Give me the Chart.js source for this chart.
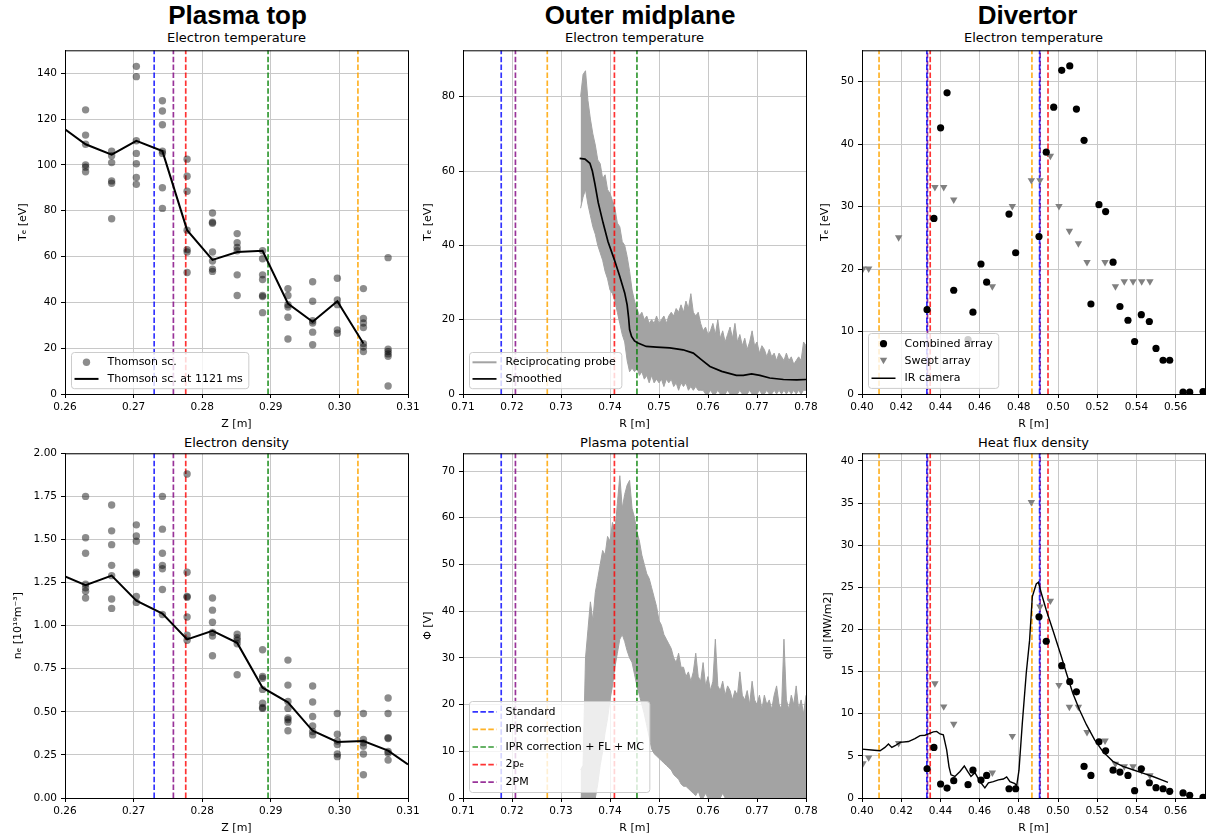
<!DOCTYPE html>
<html>
<head>
<meta charset="utf-8">
<script src="https://cdn.jsdelivr.net/npm/chart.js@4/dist/chart.umd.min.js"></script>
<style>
body { margin: 0; width: 1208px; height: 840px; overflow: hidden; background: #fff; position: relative; }
canvas { position: absolute; }
.big { position: absolute; font: bold 26px "Liberation Sans", Arial, sans-serif; line-height: 26px; white-space: nowrap; transform: translateX(-50%); color: #000; }
.sub { position: absolute; font: 13px "DejaVu Sans", sans-serif; line-height: 13px; white-space: nowrap; transform: translateX(-50%); color: #000; }
</style>
</head>
<body>
<div class="big" style="left:237.5px;top:2px">Plasma top</div>
<div class="big" style="left:640px;top:2px">Outer midplane</div>
<div class="big" style="left:1027.5px;top:2px">Divertor</div>
<div class="sub" style="left:236.5px;top:30.5px">Electron temperature</div>
<div class="sub" style="left:634.5px;top:30.5px">Electron temperature</div>
<div class="sub" style="left:1033.5px;top:30.5px">Electron temperature</div>
<div class="sub" style="left:236.5px;top:435.7px">Electron density</div>
<div class="sub" style="left:634.5px;top:435.7px">Plasma potential</div>
<div class="sub" style="left:1033.5px;top:435.7px">Heat flux density</div>

<canvas id="tl" width="421" height="394" style="left:5px;top:40px"></canvas>
<canvas id="tm" width="421" height="394" style="left:403px;top:40px"></canvas>
<canvas id="tr" width="413" height="394" style="left:802px;top:40px"></canvas>
<canvas id="bl" width="421" height="395" style="left:5px;top:443px"></canvas>
<canvas id="bm" width="421" height="395" style="left:403px;top:443px"></canvas>
<canvas id="br" width="413" height="395" style="left:802px;top:443px"></canvas>

<script>
// separatrix positions from the different models
const modelNames = ['Standard', 'IPR correction', 'IPR correction + FL + MC', '2pₑ', '2PM'];
const modelColors = ['rgba(0,0,255,0.8)', 'rgba(255,165,0,0.85)', 'rgba(0,128,0,0.8)', 'rgba(255,0,0,0.8)', 'rgba(128,0,128,0.8)'];
const modelZTop = [0.2730, 0.3027, 0.2896, 0.2776, 0.2758];
const modelROmp = [0.7178, 0.7272, 0.7455, 0.7409, 0.7207];
const modelRDivIn = [0.4331, 0.4087, null, 0.4348, 0.4334];
const modelRDivOut = [0.4906, 0.4867, null, 0.4949, 0.4909];

// plasma top: Thomson scattering
const zCols = [0.2630, 0.2668, 0.2704, 0.2742, 0.2778, 0.2815, 0.2851, 0.2888, 0.2925, 0.2961, 0.2997, 0.3035, 0.3071];
const teThomson = [
  [124, 113, 109, 100, 99, 97],
  [106, 104, 101, 93, 92, 76.5],
  [143, 138.5, 110.5, 105, 100.5, 94.5, 91.5],
  [128, 123.5, 117.5, 106, 105, 90, 81],
  [102.5, 95, 88.5, 71.5, 63, 62, 53],
  [79, 75, 74.5, 62, 58, 54.5, 53.5],
  [70, 66, 64, 62.5, 52, 43],
  [62.5, 59, 52, 50, 43, 42.5, 35.5],
  [46, 43, 39, 38, 33.5, 24],
  [49, 40.5, 32, 31, 27, 21.5],
  [50.5, 41, 39, 28, 26.5],
  [46, 33, 31, 29, 22, 20.5, 18.5],
  [59.5, 19.5, 18.5, 17.5, 16.5, 3.5]
];
const neThomson = [
  [1.75, 1.51, 1.42, 1.24, 1.22, 1.20, 1.16],
  [1.70, 1.55, 1.47, 1.35, 1.29, 1.155, 1.10],
  [1.585, 1.52, 1.49, 1.31, 1.30, 1.17, 1.135],
  [1.75, 1.56, 1.42, 1.35, 1.33, 1.21, 1.065],
  [1.88, 1.31, 1.17, 1.165, 1.05, 0.945, 0.915],
  [1.16, 1.09, 1.02, 0.96, 0.94, 0.825],
  [0.95, 0.93, 0.915, 0.895, 0.715],
  [0.86, 0.705, 0.695, 0.63, 0.55, 0.525, 0.52],
  [0.80, 0.655, 0.56, 0.52, 0.465, 0.455, 0.44, 0.39],
  [0.65, 0.557, 0.473, 0.418, 0.386, 0.366],
  [0.49, 0.37, 0.33, 0.31, 0.255, 0.24],
  [0.49, 0.34, 0.32, 0.30, 0.255, 0.135],
  [0.58, 0.49, 0.35, 0.345, 0.27, 0.26, 0.22]
];
const zLineTe = [0.2600, 0.2630, 0.2668, 0.2704, 0.2742, 0.2778, 0.2815, 0.2851, 0.2888, 0.2925, 0.2961, 0.2997, 0.3035];
const teLine = [115.5, 109, 104.5, 110.5, 106, 71.5, 58.5, 62, 62.5, 39.5, 31.5, 40.5, 22];
const zLineNe = [0.2600, 0.2630, 0.2668, 0.2704, 0.2742, 0.2778, 0.2815, 0.2851, 0.2888, 0.2925, 0.2961, 0.2997, 0.3035, 0.3071, 0.3100];
const neLine = [1.285, 1.235, 1.29, 1.145, 1.07, 0.92, 0.97, 0.90, 0.64, 0.555, 0.39, 0.325, 0.33, 0.275, 0.195];

// outer midplane: reciprocating probe (upper / lower edge of the noisy trace)
const probeR = [
  0.7340, 0.7345, 0.7350, 0.7355, 0.7360, 0.7365, 0.7370, 0.7375, 0.7380, 0.7385,
  0.7390, 0.7395, 0.7400, 0.7405, 0.7410, 0.7415, 0.7420, 0.7425, 0.7430, 0.7435,
  0.7440, 0.7445, 0.7450, 0.7455, 0.7460, 0.7465, 0.7470, 0.7475, 0.7480, 0.7485,
  0.7490, 0.7495, 0.7500, 0.7505, 0.7510, 0.7515, 0.7520, 0.7525, 0.7530, 0.7535,
  0.7540, 0.7545, 0.7550, 0.7555, 0.7560, 0.7565, 0.7570, 0.7575, 0.7580, 0.7585,
  0.7590, 0.7595, 0.7600, 0.7605, 0.7610, 0.7615, 0.7620, 0.7625, 0.7630, 0.7635,
  0.7640, 0.7645, 0.7650, 0.7655, 0.7660, 0.7665, 0.7670, 0.7675, 0.7680, 0.7685,
  0.7690, 0.7695, 0.7700, 0.7705, 0.7710, 0.7715, 0.7720, 0.7725, 0.7730, 0.7735,
  0.7740, 0.7745, 0.7750, 0.7755, 0.7760, 0.7765, 0.7770, 0.7775, 0.7780, 0.7785,
  0.7790, 0.7795, 0.7800
];
const teProbeHi = [
  80, 86, 87, 79, 74, 70, 67, 63, 62, 58,
  59, 55, 54, 52, 50, 46, 45, 41, 40, 37,
  33, 28, 25, 23, 21, 22, 20, 21, 19, 20,
  19, 21, 19, 20, 21, 19, 21, 22, 21, 23,
  22, 24, 22, 25, 23, 27, 22, 21, 22, 19,
  17, 18, 16, 17, 19, 16, 20, 15, 17, 14,
  16, 18, 15, 19, 14, 16, 13, 15, 12, 14,
  17, 13, 14, 11, 13, 12, 10, 12, 10, 11,
  9, 11, 10, 9, 11, 9, 10, 8, 9, 10,
  9, 14, 13
];
const teProbeLo = [
  50, 53, 55, 51, 48, 45, 43, 40, 38, 36,
  33, 31, 28, 27, 25, 22, 19, 16, 14, 9,
  6, 7, 6, 7, 5, 6, 4, 5, 3, 5,
  3, 4, 3, 4, 2, 4, 3, 4, 2, 3,
  1, 3, 2, 3, 1, 2, 1, 2, 1, 1,
  1, 0, 0, 1, 0, 0, 1, 0, 0, 0,
  1, 0, 0, 0, 0, 1, 0, 0, 0, 1,
  0, 0, 0, 1, 0, 0, 1, 0, 0, 1,
  0, 1, 0, 1, 0, 1, 0, 1, 0, 1,
  0, 1, 1
];
const phiProbeHi = [
  6, 7, 30, 36, 42, 38, 44, 47, 50, 53,
  52, 56, 55, 59, 57, 63, 69, 62, 65, 67,
  68, 62, 60, 57, 55, 52, 50, 48, 47, 45,
  43, 41, 38, 37, 35, 34, 33, 32, 30, 29,
  31, 28, 28, 26, 27, 25, 27, 31, 26, 25,
  29, 24, 26, 23, 25, 34, 24, 23, 25, 22,
  24, 23, 21, 23, 22, 27, 22, 21, 23, 20,
  25, 21, 20, 22, 19, 22, 20, 21, 19, 22,
  24, 20, 19, 34, 21, 19, 22, 20, 24, 19,
  21, 18, 22
];
const phiProbeLo = [
  0, 0, 0, 0, 0, 0, 0, 3, 7, 10,
  14, 17, 21, 24, 28, 31, 34, 35, 33.5, 31.5,
  30, 29, 26.5, 24, 22, 20, 18, 15.5, 13, 10.5,
  9.5, 9, 8.5, 8, 7.5, 7, 6.5, 6, 5, 4.5,
  4, 3, 2.5, 2.5, 2, 1.5, 1, 0.5, 1.5, 0,
  0, 1, 0, 0, 0, 0, 0, 0, 1, 0,
  0, 0, 0, 0, 0, 0, 0, 0, 0, 0,
  0, 0, 0, 0, 0, 0, 0, 0, 0, 0,
  0, 0, 0, 0, 0, 0, 0, 0, 0, 0,
  0, 0, 0
];
const smR = [0.7338, 0.7349, 0.7359, 0.7364, 0.7369, 0.7376, 0.7386, 0.7396, 0.7409, 0.7420,
  0.7430, 0.7435, 0.7438, 0.7440, 0.7444, 0.7450, 0.7457, 0.7474, 0.7495, 0.7522,
  0.7549, 0.7570, 0.7587, 0.7604, 0.7628, 0.7658, 0.7672, 0.7689, 0.7706, 0.7726,
  0.7754, 0.7781, 0.7800];
const smTe = [63.4, 63.2, 62.1, 60.0, 56.7, 51.5, 46.0, 41.0, 36.1, 31.6,
  27.2, 24.0, 20.5, 17.3, 15.5, 14.3, 13.7, 12.8, 12.6, 12.4,
  11.9, 11.0, 9.2, 7.4, 6.1, 5.0, 5.0, 5.4, 5.0, 4.3,
  3.9, 3.8, 3.9];

// divertor
const combR = [0.4332, 0.4367, 0.4401, 0.4434, 0.4468, 0.4541, 0.4566, 0.4607, 0.4636, 0.4750, 0.4784,
  0.4903, 0.4940, 0.4978, 0.5019, 0.5060, 0.5094, 0.5133, 0.5168, 0.5209, 0.5243, 0.5281,
  0.5316, 0.5357, 0.5391, 0.5425, 0.5466, 0.5500, 0.5536, 0.5570, 0.5638, 0.5672, 0.5740];
const combTe = [13.5, 28.1, 42.6, 48.2, 16.6, 8.7, 13.1, 20.8, 17.9, 28.8, 22.6,
  25.2, 38.7, 45.9, 51.8, 52.5, 45.6, 40.6, 14.4, 30.3, 29.2, 21.1,
  14.0, 11.8, 8.4, 12.7, 11.6, 7.3, 5.4, 5.4, 0.3, 0.3, 0.4];
const combQ = [3.47, 6.0, 1.66, 1.18, 2.05, 1.58, 3.3, 2.13, 2.68, 1.1, 1.1,
  21.5, 18.6, null, 15.7, 13.8, 12.6, 3.75, 2.68, 6.67, 5.6, 3.3,
  3.08, 2.68, 0.87, 3.47, 1.81, 1.22, 1.1, 0.79, 0.6, 0.32, 0.08];
const sweptR = [0.4005, 0.4034, 0.4187, 0.4372, 0.4417, 0.4468, 0.4665, 0.4767, 0.4864, 0.4908, 0.4961,
  0.5005, 0.5058, 0.5104, 0.5148, 0.5240, 0.5293, 0.5338, 0.5383, 0.5427, 0.5469];
const sweptTe = [20.05, 20.05, 25.05, 33.1, 33.1, 31.1, 17.2, 30.05, 34.2, 34.2, 38.1,
  30.05, 26.1, 24.1, 21.1, 21.1, 17.2, 18.0, 18.0, 18.0, 18.0];
const sweptQ = [4.1, 4.8, 6.5, 13.6, 10.85, 8.8, 3.0, 7.35, 35.1, 22.7, 23.4,
  13.4, 10.8, 10.8, 7.8, 6.8, 4.06, 3.75, 3.75, 3.27, 2.68];
const irR = [0.4000, 0.4049, 0.4092, 0.4117, 0.4135, 0.4152, 0.4169, 0.4194, 0.4237, 0.4270,
  0.4296, 0.4321, 0.4339, 0.4364, 0.4381, 0.4398, 0.4415, 0.4432, 0.4444, 0.4454,
  0.4474, 0.4500, 0.4522, 0.4539, 0.4556, 0.4576, 0.4602, 0.4627, 0.4645, 0.4670,
  0.4696, 0.4721, 0.4738, 0.4755, 0.4780, 0.4789, 0.4801, 0.4818, 0.4838, 0.4855,
  0.4869, 0.4889, 0.4900, 0.4915, 0.4940, 0.4974, 0.5017, 0.5043, 0.5076, 0.5110,
  0.5145, 0.5187, 0.5229, 0.5280, 0.5331, 0.5382, 0.5433, 0.5484, 0.5535, 0.5561];
const irQ = [5.8, 5.7, 5.6, 6.0, 6.4, 6.0, 6.2, 6.6, 6.7, 7.05,
  7.4, 7.45, 7.6, 7.85, 7.9, 7.6, 7.5, 5.7, 3.7, 2.75,
  2.55, 3.15, 3.8, 3.15, 2.55, 3.0, 1.95, 1.2, 1.8, 1.95,
  2.15, 2.25, 2.5, 1.95, 1.7, 1.4, 3.3, 8.9, 14.8, 18.7,
  23.9, 25.4, 25.6, 24.3, 22.3, 19.9, 16.8, 14.8, 12.4, 10.45,
  8.7, 6.9, 5.5, 4.35, 3.75, 3.35, 2.95, 2.55, 2.1, 1.85];

// axis limits
const zLim = [0.26, 0.31], rOmpLim = [0.71, 0.78], rDivLim = [0.40, 0.575];
const teTopLim = [0, 150], neLim = [0, 2], teOmpLim = [0, 92.5], phiLim = [0, 73.8], teDivLim = [0, 55], qLim = [0, 40.9];

const fontTick = {family: 'DejaVu Sans', size: 10.5};
const fontLab = {family: 'DejaVu Sans', size: 11, lineHeight: 1.2};
const probeGray = '#a3a3a3';

function pairs(xs, ys) {
  return xs.map((x, i) => ({x: x, y: ys[i]}));
}
function columns(xs, cols) {
  const pts = [];
  xs.forEach((x, i) => cols[i].forEach(v => pts.push({x: x, y: v})));
  return pts;
}
function vline(x, lim, color, label, extra) {
  return Object.assign({
    label: label, data: [{x: x, y: lim[0]}, {x: x, y: lim[1]}],
    borderColor: color, borderWidth: 1.7, borderDash: [5.5, 2.4], pointRadius: 0, fill: false
  }, extra || {});
}
function modelLines(xs, lim) {
  const out = [];
  xs.forEach((x, i) => { if (x !== null) out.push(vline(x, lim, modelColors[i], modelNames[i])); });
  return out;
}
function divLines(lim) {
  const out = [];
  [modelRDivIn, modelRDivOut].forEach(xs => xs.forEach((x, i) => {
    if (x !== null) out.push(vline(x, lim, modelColors[i], modelNames[i], i === 4 ? {borderDashOffset: 4} : {}));
  }));
  return out;
}
function scatterSet(label, pts, color, r, style) {
  return {label: label, data: pts, showLine: false, pointRadius: r, pointHoverRadius: r,
    pointBackgroundColor: color, pointBorderWidth: 0, pointBorderColor: 'rgba(0,0,0,0)',
    pointStyle: style || 'circle', pointRotation: style === 'triangle' ? 180 : 0};
}
function lineSet(label, pts, color, w) {
  return {label: label, data: pts, borderColor: color, borderWidth: w, pointRadius: 0, fill: false};
}

// frame (all four spines) and a matplotlib-like legend box in the lower left
const boxLegend = {
  id: 'boxLegend',
  afterDatasetsDraw(chart, args, opts) {
    const a = chart.chartArea, ctx = chart.ctx;
    ctx.save();
    ctx.setLineDash([]);
    ctx.strokeStyle = '#000';
    ctx.lineWidth = 1;
    ctx.strokeRect(a.left + 0.5, a.top + 0.5, a.right - a.left, a.bottom - a.top);
    const labels = opts.labels || [];
    if (labels.length) {
      const rowH = opts.rowH;
      ctx.font = '11px "DejaVu Sans"';
      let tw = 0;
      labels.forEach(l => { tw = Math.max(tw, ctx.measureText(l).width); });
      const w = 36 + tw + 6, h = labels.length * rowH + 3;
      const x0 = Math.round(a.left + 6) + 0.5, y0 = Math.round(a.bottom - 6 - h) + 0.5;
      ctx.beginPath();
      if (ctx.roundRect) ctx.roundRect(x0, y0, w, h, 3); else ctx.rect(x0, y0, w, h);
      ctx.fillStyle = 'rgba(255,255,255,0.8)';
      ctx.fill();
      ctx.strokeStyle = '#cccccc';
      ctx.stroke();
      labels.forEach((l, i) => {
        const d = chart.data.datasets.find(ds => ds.label === l);
        const cy = y0 + 1.5 + rowH * (i + 0.5);
        if (d.showLine === false) {
          const r = d.pointRadius, cx = x0 + 15;
          ctx.fillStyle = d.pointBackgroundColor;
          ctx.beginPath();
          if (d.pointStyle === 'triangle') {
            ctx.moveTo(cx, cy + r * 0.75);
            ctx.lineTo(cx - r * 0.866, cy - r * 0.75);
            ctx.lineTo(cx + r * 0.866, cy - r * 0.75);
            ctx.closePath();
          } else {
            ctx.arc(cx, cy, r, 0, Math.PI * 2);
          }
          ctx.fill();
        } else {
          ctx.strokeStyle = d.borderColor;
          ctx.lineWidth = d.legendWidth || d.borderWidth;
          ctx.setLineDash(d.borderDash || []);
          ctx.beginPath();
          ctx.moveTo(x0 + 3, cy);
          ctx.lineTo(x0 + 27, cy);
          ctx.stroke();
          ctx.setLineDash([]);
        }
        ctx.fillStyle = '#000';
        ctx.textBaseline = 'middle';
        ctx.textAlign = 'left';
        ctx.fillText(l, x0 + 36, cy);
      });
    }
    ctx.restore();
  }
};

function panel(id, datasets, o) {
  const grid = {color: '#c8c8c8', lineWidth: 1, tickLength: 4, tickColor: '#000'};
  return new Chart(document.getElementById(id), {
    type: 'line',
    data: {datasets: datasets},
    options: {
      responsive: false,
      animation: false,
      devicePixelRatio: 1,
      events: [],
      datasets: {line: {clip: 0}},
      layout: {padding: {top: 10, right: o.padR, left: 0, bottom: 0}},
      plugins: {
        legend: {display: false},
        tooltip: {enabled: false},
        boxLegend: {labels: o.legend || [], rowH: o.rowH || 16.6}
      },
      scales: {
        x: {
          type: 'linear', min: o.xlim[0], max: o.xlim[1],
          afterFit: s => { s.height = 40; },
          ticks: {stepSize: o.xstep, includeBounds: false, autoSkip: false, maxRotation: 0,
            font: fontTick, color: '#000', padding: 3, callback: v => v.toFixed(2)},
          grid: grid,
          border: {color: '#000'},
          title: {display: true, text: o.xtitle, font: fontLab, color: '#000', padding: {top: 0, bottom: 3}}
        },
        y: {
          type: 'linear', min: o.ylim[0], max: o.ylim[1],
          afterFit: s => { s.width = 60; },
          ticks: {stepSize: o.ystep, includeBounds: false, font: fontTick, color: '#000', padding: 4,
            callback: v => v.toFixed(o.ydec)},
          grid: grid,
          border: {color: '#000'},
          title: {display: true, text: o.ytitle, font: fontLab, color: '#000', padding: {top: o.ypad, bottom: 0}}
        }
      }
    },
    plugins: [boxLegend]
  });
}

// Plasma top - electron temperature
panel('tl', [
  lineSet('Thomson sc. at 1121 ms', pairs(zLineTe, teLine), '#000', 2),
  scatterSet('Thomson sc.', columns(zCols, teThomson), 'rgba(0,0,0,0.45)', 3.7)
].concat(modelLines(modelZTop, teTopLim)), {
  xlim: zLim, ylim: teTopLim, xstep: 0.01, ystep: 20, ydec: 0, padR: 18,
  xtitle: 'Z [m]', ytitle: 'Tₑ [eV]', ypad: 11.4,
  legend: ['Thomson sc.', 'Thomson sc. at 1121 ms'], rowH: 16.6
});

// Outer midplane - electron temperature
panel('tm', [
  lineSet('Smoothed', pairs(smR, smTe), '#000', 1.7)
].concat(modelLines(modelROmp, teOmpLim), [
  lineSet('', pairs(probeR, teProbeLo), probeGray, 1),
  Object.assign(lineSet('Reciprocating probe', pairs(probeR, teProbeHi), probeGray, 1),
    {fill: '-1', backgroundColor: probeGray, legendWidth: 2})
]), {
  xlim: rOmpLim, ylim: teOmpLim, xstep: 0.01, ystep: 20, ydec: 0, padR: 18,
  xtitle: 'R [m]', ytitle: 'Tₑ [eV]', ypad: 18.4,
  legend: ['Reciprocating probe', 'Smoothed'], rowH: 16.6
});

// Divertor - electron temperature
panel('tr', [
  scatterSet('Combined array', pairs(combR, combTe), '#000', 3.6),
  scatterSet('Swept array', pairs(sweptR, sweptTe), '#808080', 4.3, 'triangle'),
  lineSet('IR camera', [], '#000', 1.5)
].concat(divLines(teDivLim)), {
  xlim: rDivLim, ylim: teDivLim, xstep: 0.02, ystep: 10, ydec: 0, padR: 10,
  xtitle: 'R [m]', ytitle: 'Tₑ [eV]', ypad: 16.4,
  legend: ['Combined array', 'Swept array', 'IR camera'], rowH: 17.3
});

// Plasma top - electron density
panel('bl', [
  lineSet('Thomson sc. at 1121 ms', pairs(zLineNe, neLine), '#000', 2),
  scatterSet('Thomson sc.', columns(zCols, neThomson), 'rgba(0,0,0,0.45)', 3.7)
].concat(modelLines(modelZTop, neLim)), {
  xlim: zLim, ylim: neLim, xstep: 0.01, ystep: 0.25, ydec: 2, padR: 18,
  xtitle: 'Z [m]', ytitle: 'nₑ [10¹⁹m⁻³]', ypad: 6.4
});

// Outer midplane - plasma potential
panel('bm', modelLines(modelROmp, phiLim).concat([
  lineSet('', pairs(probeR, phiProbeLo), probeGray, 1),
  Object.assign(lineSet('Reciprocating probe', pairs(probeR, phiProbeHi), probeGray, 1),
    {fill: '-1', backgroundColor: probeGray})
]), {
  xlim: rOmpLim, ylim: phiLim, xstep: 0.01, ystep: 10, ydec: 0, padR: 18,
  xtitle: 'R [m]', ytitle: 'Φ [V]', ypad: 18.4,
  legend: modelNames, rowH: 17.6
});

// Divertor - heat flux density
panel('br', [
  lineSet('IR camera', pairs(irR, irQ), '#000', 1.4),
  scatterSet('Combined array', pairs(combR, combQ), '#000', 3.6),
  scatterSet('Swept array', pairs(sweptR, sweptQ), '#808080', 4.3, 'triangle')
].concat(divLines(qLim)), {
  xlim: rDivLim, ylim: qLim, xstep: 0.02, ystep: 5, ydec: 0, padR: 10,
  xtitle: 'R [m]', ytitle: 'qll [MW/m2]', ypad: 19.4
});
</script>
</body>
</html>
